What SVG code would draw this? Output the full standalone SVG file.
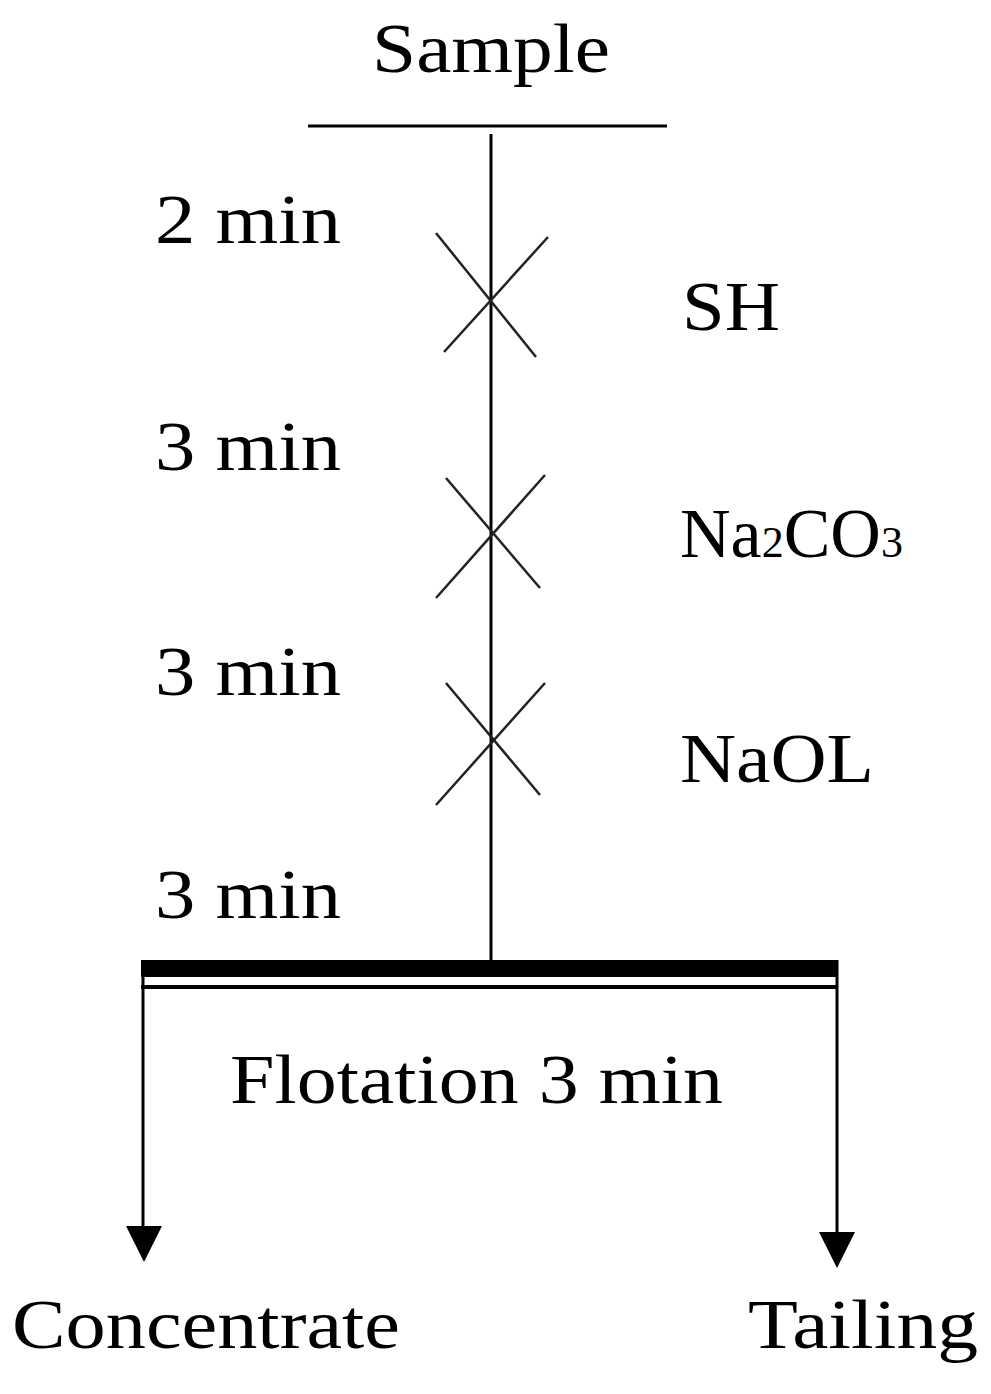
<svg xmlns="http://www.w3.org/2000/svg" width="991" height="1394" viewBox="0 0 991 1394">
<style>
text{font-family:"Liberation Serif","Times New Roman",serif;font-size:70px;fill:#000}
.l{stroke:#000;stroke-width:3;fill:none}
.x{stroke:#222;stroke-width:2.5;fill:none}
</style>
<g id="labels">
<text x="372" y="72" textLength="238" lengthAdjust="spacingAndGlyphs">Sample</text>
<text x="155" y="243" textLength="186" lengthAdjust="spacingAndGlyphs">2 min</text>
<text x="155" y="470" textLength="186" lengthAdjust="spacingAndGlyphs">3 min</text>
<text x="155" y="695" textLength="186" lengthAdjust="spacingAndGlyphs">3 min</text>
<text x="155" y="918" textLength="186" lengthAdjust="spacingAndGlyphs">3 min</text>
<text x="682" y="330" textLength="98" lengthAdjust="spacingAndGlyphs">SH</text>
<text x="680" y="557">Na<tspan font-size="44" dy="0">2</tspan>CO<tspan font-size="44">3</tspan></text>
<text x="680" y="782" textLength="194" lengthAdjust="spacingAndGlyphs">NaOL</text>
<text x="230" y="1103" textLength="493" lengthAdjust="spacingAndGlyphs">Flotation 3 min</text>
<text x="12" y="1348" textLength="388" lengthAdjust="spacingAndGlyphs">Concentrate</text>
<text x="748" y="1348" textLength="230" lengthAdjust="spacingAndGlyphs">Tailing</text>
</g>
<g id="connectors">
<line class="l" x1="308" y1="126" x2="667" y2="126"/>
<line class="l" x1="491" y1="134" x2="491" y2="962"/>
<line class="x" x1="436" y1="233" x2="536" y2="357"/>
<line class="x" x1="548" y1="237" x2="444" y2="352"/>
<line class="x" x1="446" y1="478" x2="540" y2="588"/>
<line class="x" x1="545" y1="475" x2="436" y2="598"/>
<line class="x" x1="446" y1="683" x2="540" y2="795"/>
<line class="x" x1="545" y1="683" x2="436" y2="805"/>
<rect x="141" y="960" width="697" height="17" fill="#000"/>
<line x1="141" y1="987" x2="838" y2="987" stroke="#000" stroke-width="4"/>
<line class="l" x1="143" y1="960" x2="143" y2="1230"/>
<path d="M126,1226L162,1226L144,1262Z" fill="#000"/>
<line class="l" x1="837" y1="960" x2="837" y2="1236"/>
<path d="M819,1232L855,1232L837,1268Z" fill="#000"/>
</g>
</svg>
